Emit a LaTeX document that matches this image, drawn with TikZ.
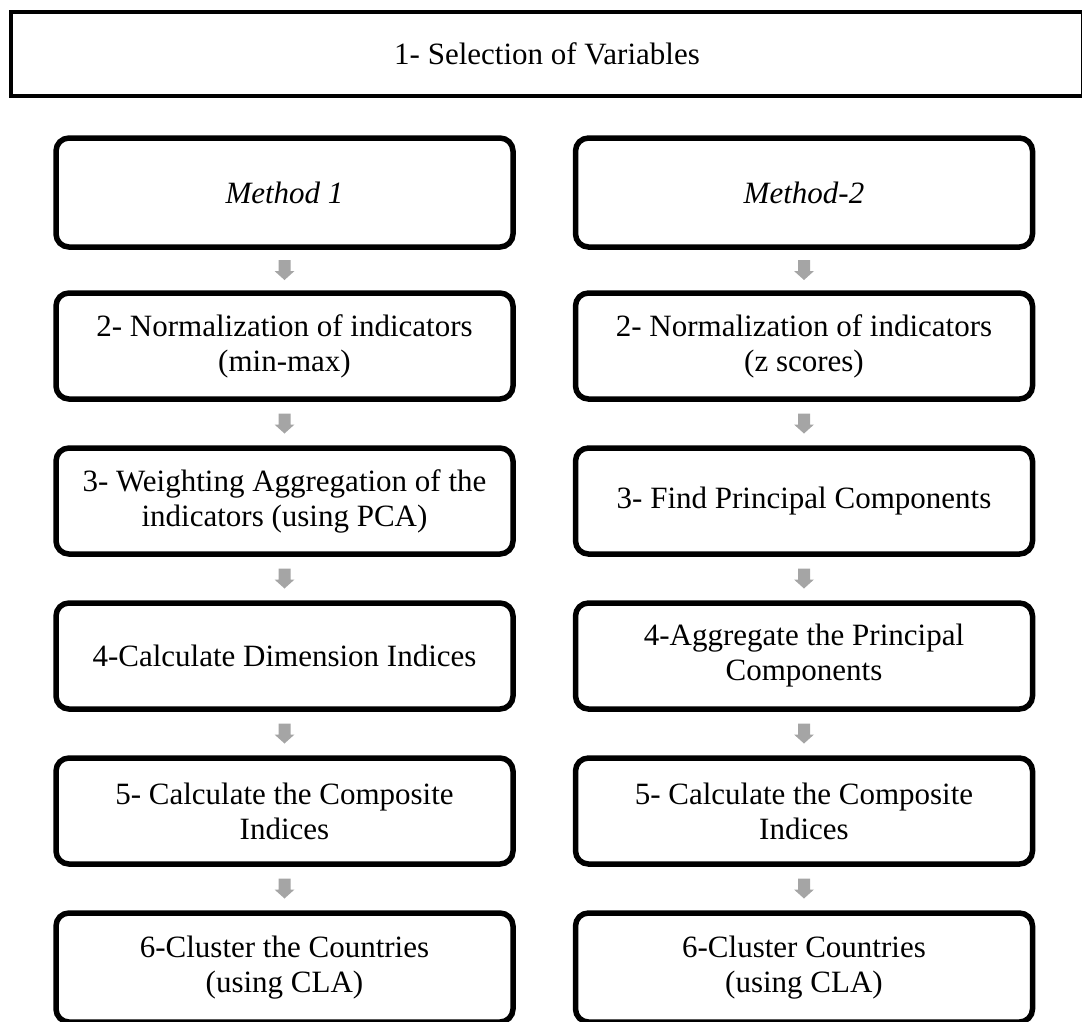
\documentclass[tikz,border=0pt]{standalone}
\usepackage{fontspec}
\setmainfont{Liberation Serif}
\usetikzlibrary{calc}
\definecolor{arrowgray}{HTML}{A5A5A5}
\begin{document}
\begin{tikzpicture}[x=1pt,y=-1pt,
 every node/.style={font=\fontsize{31}{35}\selectfont},
 topbox/.style={draw, line width=4pt, minimum width=1072pt, minimum height=84pt, inner sep=0pt},
 stepbox/.style={draw, line width=5.5pt, rounded corners=13pt, minimum width=457pt, minimum height=106pt, align=center, inner sep=0pt},
 downarrow/.pic={\fill[arrowgray] (-6,-10) -- (6,-10) -- (6,1) -- (10,1) -- (0,10) -- (-10,1) -- (-6,1) -- cycle;}
]
\useasboundingbox (0,0) rectangle (1082,1021);

\node[topbox] (sel) at (547,54) {1- Selection of Variables};

\node[stepbox, minimum height=109pt] (m1) at (284.5,192.5) {\itshape Method 1};
\node[stepbox, minimum height=109pt] (m2) at (804,192.5) {\itshape Method-2};

\node[stepbox] (l2) at (284.5,346) {2- Normalization of indicators\\(min-max)};
\node[stepbox] (r2) at (804,346) {2- Normalization of indicators\\(z scores)};

\node[stepbox] (l3) at (284.5,501) {3- Weighting Aggregation of the\\indicators (using PCA)};
\node[stepbox] (r3) at (804,501) {3- Find Principal Components};

\node[stepbox] (l4) at (284.5,656) {4-Calculate Dimension Indices};
\node[stepbox] (r4) at (804,656) {4-Aggregate the Principal\\Components};

\node[stepbox] (l5) at (284.5,811) {5- Calculate the Composite\\Indices};
\node[stepbox] (r5) at (804,811) {5- Calculate the Composite\\Indices};

\node[stepbox, minimum height=109pt] (l6) at (284.5,967.5) {6-Cluster the Countries\\(using CLA)};
\node[stepbox, minimum height=109pt] (r6) at (804,967.5) {6-Cluster Countries\\(using CLA)};

\foreach \a/\b in {m1/l2,l2/l3,l3/l4,l4/l5,l5/l6,m2/r2,r2/r3,r3/r4,r4/r5,r5/r6}{
  \path (\a.south) -- (\b.north) coordinate[midway] (c-\a);
  \pic at (c-\a) {downarrow};
}
\end{tikzpicture}
\end{document}
